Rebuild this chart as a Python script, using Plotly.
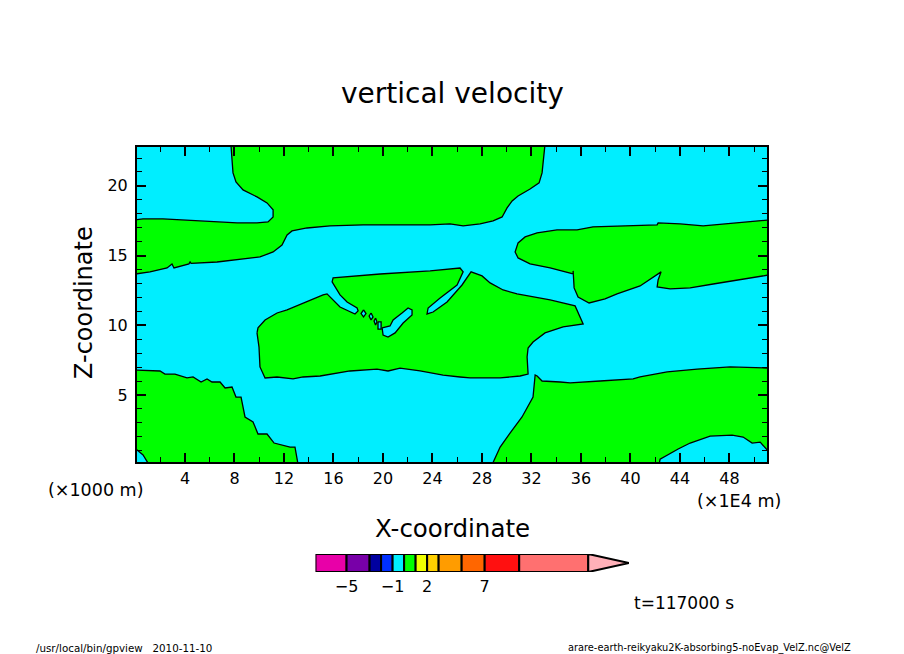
import numpy as np
import plotly.graph_objects as go

# contour boundaries of vertical velocity = 0, x in 1E4 m, z in 1000 m
upper_x = [7.72, 7.72, 7.80, 7.88, 8.12, 8.69, 9.82, 10.63, 11.12, 11.12, 10.71, 9.82, 8.21, 6.59, 4.16, 2.22, 0.61, 0.0, 0.0,
           1.17, 2.55, 2.95, 3.11, 4.32, 4.41, 4.49, 6.59, 8.21, 10.06, 11.12, 11.84, 12.25, 12.65, 13.86, 15.72, 18.39, 20.01,
           21.95, 23.81, 25.42, 26.48, 27.85, 28.90, 29.63, 30.03, 30.44, 30.92, 31.89, 32.62, 32.86, 33.02, 33.10, 33.10]
upper_z = [23.0, 22.87, 21.87, 20.93, 20.29, 19.71, 19.21, 18.78, 18.28, 17.77, 17.42, 17.34, 17.34, 17.42, 17.56, 17.63, 17.63, 17.56, 13.68,
           13.83, 14.11, 14.40, 14.11, 14.40, 14.54, 14.44, 14.54, 14.69, 14.90, 15.26, 15.76, 16.48, 16.77, 16.98, 17.13, 17.20, 17.20,
           17.20, 17.20, 17.27, 17.13, 17.27, 17.49, 17.77, 18.42, 18.92, 19.28, 19.78, 20.22, 20.93, 22.08, 22.87, 23.0]

right_x = [51.2, 49.43, 47.82, 45.88, 44.02, 42.24, 42.16, 39.41, 36.98, 35.69, 34.07, 32.46, 31.49, 30.92, 30.68, 30.92, 31.89, 33.51,
           35.37, 35.37, 35.45, 35.77, 36.66, 37.95, 38.92, 40.78, 41.84, 42.48, 42.24, 42.16, 43.21, 44.83, 46.69, 48.87, 51.2]
right_z = [17.56, 17.42, 17.27, 17.13, 17.27, 17.34, 17.20, 17.13, 17.06, 16.84, 16.84, 16.63, 16.34, 15.91, 15.26, 14.83, 14.40, 14.11,
           13.68, 13.90, 12.68, 12.03, 11.60, 11.89, 12.25, 12.82, 13.47, 13.83, 13.25, 12.75, 12.61, 12.68, 12.96, 13.25, 13.61]

center_x = [9.82, 9.98, 10.06, 10.47, 11.44, 12.73, 13.54, 14.92, 17.34, 19.52, 20.41, 21.38, 23.00, 24.86, 26.23, 27.04, 29.47, 31.08, 31.73,
            31.65, 31.73, 32.13, 33.10, 34.56, 36.18, 35.77, 35.53, 33.51, 30.84, 29.71, 28.66, 28.01, 27.12, 26.39, 25.18, 24.05, 23.56,
            23.65, 24.62, 25.99, 26.48, 26.23, 23.81, 19.77, 15.97, 15.89, 16.53, 17.10, 17.91, 17.99, 17.74, 16.53, 15.48, 15.16, 12.25,
            11.44, 10.47, 9.90, 9.82]
center_z = [9.45, 8.44, 7.01, 6.22, 6.29, 6.15, 6.29, 6.36, 6.72, 6.86, 6.72, 6.93, 6.72, 6.43, 6.29, 6.22, 6.22, 6.36, 6.50,
            7.72, 8.37, 8.80, 9.45, 9.88, 10.09, 10.88, 11.39, 11.82, 12.25, 12.53, 13.04, 13.54, 13.83, 12.89, 11.67, 10.95, 10.81,
            11.24, 11.96, 12.89, 13.83, 14.11, 13.90, 13.68, 13.40, 13.11, 12.18, 11.67, 11.24, 11.03, 10.81, 11.31, 12.25, 12.18, 11.10,
            10.88, 10.38, 9.81, 9.45]

lower_left_x = [0.0, 1.17, 1.98, 2.38, 3.19, 4.16, 4.65, 5.30, 5.78, 6.18, 6.83, 7.24, 7.80, 8.12, 8.53, 8.85, 9.50, 9.90, 10.63,
                11.20, 12.09, 12.49, 12.89, 13.06, 13.14, 1.09, 0.61, 0.12, 0.0]
lower_left_z = [6.79, 6.72, 6.72, 6.50, 6.50, 6.22, 6.29, 5.93, 6.15, 5.93, 5.93, 5.50, 5.57, 4.85, 4.85, 3.42, 3.06, 2.20, 2.20,
                1.55, 1.34, 1.26, 1.26, 0.55, 0.0, 0.0, 0.69, 1.05, 1.05]

lower_right_x = [28.82, 29.47, 30.27, 31.24, 32.13, 32.30, 32.46, 32.86, 34.32, 35.13, 37.55, 40.22, 40.78, 42.97, 45.39, 48.06, 51.2, 51.2,
                 50.49, 49.84, 49.11, 48.22, 46.44, 44.83, 43.86, 43.05, 42.40, 42.32]
lower_right_z = [0.0, 1.26, 2.27, 3.42, 4.85, 6.43, 6.36, 6.00, 5.93, 5.86, 6.00, 6.15, 6.29, 6.65, 6.86, 7.01, 6.93, 0.90,
                 1.62, 1.55, 1.98, 2.12, 2.05, 1.55, 1.12, 0.69, 0.40, 0.0]

# cyan pockets inside the central green area
pocket_x = [
  [19.93, 20.01, 20.41, 20.98, 21.63, 22.35, 22.35, 22.03, 21.54, 20.82, 20.57, 20.17, 19.93],
  [18.43, 18.63, 18.43, 18.23, 18.43],
  [19.04, 19.20, 19.04, 18.88, 19.04],
  [19.40, 19.52, 19.40, 19.28, 19.40],
  [19.60, 19.85, 19.85, 19.60, 19.60],
]
pocket_z = [
  [9.81, 9.30, 9.16, 9.45, 10.16, 10.74, 11.10, 11.24, 10.88, 10.38, 9.95, 9.88, 9.81],
  [11.10, 10.84, 10.60, 10.84, 11.10],
  [10.88, 10.60, 10.38, 10.67, 10.88],
  [10.52, 10.24, 10.02, 10.31, 10.52],
  [10.24, 10.24, 9.73, 9.73, 10.24],
]

# colour bar
levels = [-7.7, -5, -3, -2, -1, 0, 1, 2, 3, 5, 7, 10, 16]
level_colors = ['#e800a8', '#7800a8', '#0000a0', '#0030ff', '#00eeff', '#00ff00', '#f0ff00',
                '#ffd000', '#ff9c00', '#ff6600', '#ff1010', '#ff7070']
over_color = '#ffb0b8'
bar_tick_vals = [-5, -1, 2, 7]
bar_tick_text = ['\u22125', '\u22121', '2', '7']

CYAN = '#00eeff'
GREEN = '#00ff00'
FONT = 'DejaVu Sans'
W, H = 904, 654


def px_x(px):
  return px / W


def px_y(py):
  return 1 - py / H


fig = go.Figure()

for xs, zs in [(upper_x, upper_z), (right_x, right_z), (center_x, center_z),
               (lower_left_x, lower_left_z), (lower_right_x, lower_right_z)]:
  fig.add_trace(go.Scatter(x=xs, y=zs, mode='lines', fill='toself', fillcolor=GREEN,
                           line=dict(color='black', width=1.3)))

for xs, zs in zip(pocket_x, pocket_z):
  fig.add_trace(go.Scatter(x=xs, y=zs, mode='lines', fill='toself', fillcolor=CYAN,
                           line=dict(color='black', width=1.3)))

# colour bar cells
fig.add_trace(go.Bar(x=np.diff(levels), y=[0] * len(level_colors), base=levels[:-1], orientation='h', width=1,
                     marker=dict(color=level_colors, line=dict(color='black', width=2)),
                     xaxis='x2', yaxis='y2'))
fig.add_trace(go.Scatter(x=[16, 19.54, 16, 16], y=[0.5, 0, -0.5, 0.5], mode='lines', fill='toself', fillcolor=over_color,
                         line=dict(color='black', width=2), xaxis='x2', yaxis='y2'))

notes = [
  ('vertical velocity', 452, 93, 28),
  ('X-coordinate', 452, 528, 24.5),
  ('(\u00d71000 m)', 95, 490, 17.5),
  ('(\u00d71E4 m)', 739, 501, 17.5),
  ('t=117000 s', 684, 603, 17),
  ('/usr/local/bin/gpview\u00a0\u00a0\u00a02010-11-10', 124, 648, 10.3),
  ('arare-earth-reikyaku2K-absorbing5-noEvap_VelZ.nc@VelZ', 709, 648, 9.8),
]
annotations = []
for text, x, y, size in notes:
  annotations.append(dict(text=text, x=px_x(x), y=px_y(y), xref='paper', yref='paper', showarrow=False,
                          xanchor='center', yanchor='middle', font=dict(size=size, color='black', family=FONT)))
annotations.append(dict(text='Z-coordinate', x=px_x(84), y=px_y(303), xref='paper', yref='paper', showarrow=False,
                        textangle=-90, xanchor='center', yanchor='middle',
                        font=dict(size=24, color='black', family=FONT)))

fig.update_layout(
  width=W,
  height=H,
  margin=dict(l=0, r=0, t=0, b=0),
  paper_bgcolor='white',
  plot_bgcolor='white',
  showlegend=False,
  annotations=annotations,
  font=dict(family=FONT, color='black'),
  shapes=[dict(type='rect', xref='x domain', yref='y domain', x0=0, x1=1, y0=0, y1=1, layer='below',
               fillcolor=CYAN, line=dict(width=0))],
  xaxis=dict(domain=[px_x(137), px_x(767)], range=[0.12, 51.04], tickmode='linear', tick0=0, dtick=4,
             ticks='inside', ticklen=9, tickwidth=2, tickcolor='black',
             showgrid=False, zeroline=False, showline=True, linecolor='black', linewidth=2, mirror='allticks',
             minor=dict(dtick=2, tick0=0, ticks='inside', ticklen=5, tickwidth=1, tickcolor='black', showgrid=False),
             tickfont=dict(size=16), ticklabelstandoff=1),
  yaxis=dict(domain=[px_y(462), px_y(147)], range=[0.19, 22.79], tickmode='linear', tick0=0, dtick=5,
             ticks='inside', ticklen=9, tickwidth=2, tickcolor='black',
             showgrid=False, zeroline=False, showline=True, linecolor='black', linewidth=2, mirror='allticks',
             minor=dict(dtick=1, tick0=0, ticks='inside', ticklen=5, tickwidth=1, tickcolor='black', showgrid=False),
             tickfont=dict(size=16), ticklabelstandoff=4),
  xaxis2=dict(domain=[px_x(315.5), px_x(629)], range=[-7.7, 19.54], anchor='y2', tickvals=bar_tick_vals,
              ticktext=bar_tick_text, ticks='', showgrid=False, zeroline=False, showline=False,
              tickfont=dict(size=16), ticklabelstandoff=3),
  yaxis2=dict(domain=[px_y(572), px_y(554)], range=[-0.5, 0.5], anchor='x2', visible=False),
)

fig.write_html('out.html', config=dict(displayModeBar=False), post_script="document.body.style.margin='0';")
